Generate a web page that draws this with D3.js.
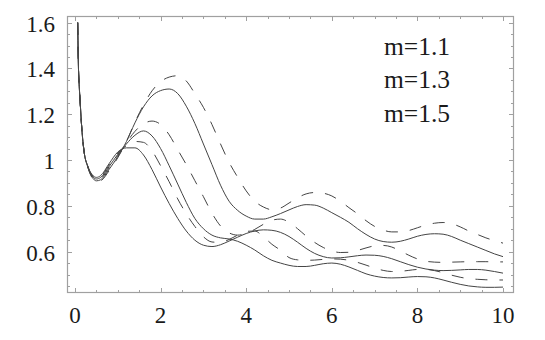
<!DOCTYPE html>
<html><head><meta charset="utf-8">
<script src="https://cdn.jsdelivr.net/npm/d3@7"></script>
<style>html,body{margin:0;padding:0;background:#fff}svg{display:block}</style>
</head><body>
<svg id="c" width="545" height="340"></svg>
<script>
// x sample positions shared by all curves
const xs = [0.063,0.08,0.1,0.12,0.16,0.21,0.3,0.4,0.5,0.6,0.8,
  1.0,1.2,1.4,1.6,1.8,2.0,2.2,2.4,2.6,2.8,3.0,3.2,3.4,3.6,3.8,4.0,4.2,4.4,4.6,4.8,
  5.0,5.2,5.4,5.6,5.8,6.0,6.2,6.4,6.6,6.8,7.0,7.2,7.4,7.6,7.8,8.0,8.2,8.4,8.6,8.8,
  9.0,9.2,9.4,9.6,9.8,10.0];

const solidLow = [1.60,1.41,1.32,1.255,1.135,1.04,0.973,0.936,0.924,0.932,0.985,
  1.035,1.053,1.053,1.022,0.958,0.882,0.81,0.745,0.69,0.65,0.628,0.622,0.63,0.646,0.663,0.679,0.69,0.695,0.693,0.684,
  0.666,0.641,0.614,0.592,0.578,0.572,0.573,0.577,0.582,0.585,0.584,0.579,0.569,0.556,0.543,0.532,0.524,0.519,0.517,0.518,
  0.52,0.522,0.522,0.519,0.513,0.506];
const dashedLow = [1.60,1.41,1.32,1.255,1.135,1.04,0.972,0.934,0.921,0.928,0.979,
  1.03,1.062,1.081,1.077,1.04,0.975,0.905,0.83,0.765,0.71,0.665,0.642,0.64,0.653,0.672,0.688,0.69,0.665,0.632,0.606,
  0.574,0.564,0.562,0.563,0.566,0.568,0.567,0.562,0.553,0.541,0.528,0.518,0.513,0.514,0.518,0.522,0.522,0.517,0.508,0.497,
  0.488,0.482,0.479,0.477,0.476,0.476];
const solidMid = [1.60,1.41,1.32,1.255,1.135,1.04,0.971,0.931,0.917,0.924,0.972,
  1.025,1.07,1.108,1.127,1.105,1.05,0.975,0.895,0.815,0.745,0.70,0.672,0.66,0.655,0.645,0.628,0.607,0.582,0.562,0.55,
  0.54,0.535,0.535,0.54,0.547,0.55,0.545,0.533,0.518,0.503,0.493,0.487,0.485,0.486,0.489,0.491,0.49,0.485,0.476,0.466,
  0.457,0.45,0.446,0.444,0.444,0.445];
const dashedMid = [1.60,1.41,1.32,1.255,1.135,1.04,0.97,0.928,0.913,0.919,0.966,
  1.02,1.075,1.125,1.158,1.17,1.155,1.11,1.045,0.98,0.91,0.84,0.768,0.712,0.682,0.672,0.679,0.697,0.719,0.737,0.742,
  0.728,0.70,0.668,0.64,0.618,0.603,0.596,0.597,0.605,0.616,0.625,0.627,0.62,0.603,0.584,0.568,0.558,0.554,0.553,0.554,
  0.555,0.556,0.556,0.556,0.555,0.555];
const solidHigh = [1.60,1.41,1.32,1.255,1.135,1.04,0.969,0.925,0.909,0.914,0.96,
  1.015,1.08,1.162,1.232,1.28,1.303,1.31,1.29,1.235,1.16,1.07,0.98,0.89,0.82,0.78,0.755,0.742,0.742,0.752,0.766,
  0.782,0.797,0.805,0.803,0.79,0.77,0.75,0.728,0.70,0.675,0.655,0.644,0.641,0.645,0.655,0.667,0.675,0.678,0.676,0.666,
  0.65,0.635,0.62,0.605,0.59,0.578];
const dashedHigh = [1.60,1.41,1.32,1.255,1.135,1.04,0.968,0.922,0.905,0.909,0.954,
  1.01,1.08,1.165,1.24,1.302,1.342,1.362,1.368,1.345,1.29,1.23,1.155,1.07,0.99,0.925,0.865,0.82,0.795,0.783,0.79,
  0.812,0.835,0.852,0.858,0.855,0.843,0.82,0.792,0.765,0.735,0.71,0.694,0.686,0.686,0.692,0.704,0.716,0.724,0.727,0.722,
  0.708,0.69,0.675,0.66,0.648,0.637];

const xTickValues = [0,2,4,6,8,10];
const xTickLabels = ["0","2","4","6","8","10"];
const yTickValues = [0.6,0.8,1,1.2,1.4,1.6];
const yTickLabels = ["0.6","0.8","1","1.2","1.4","1.6"];
const legendLabels = ["m=1.1","m=1.3","m=1.5"];

const series = [
  {v: solidLow, dash: null}, {v: dashedLow, dash: "12,12"},
  {v: solidMid, dash: null}, {v: dashedMid, dash: "12,12"},
  {v: solidHigh, dash: null}, {v: dashedHigh, dash: "12,12"}
];

const svg = d3.select("#c");
const x = d3.scaleLinear().domain([0,10]).range([75,503]);
const y = d3.scaleLinear().domain([0.6,1.6]).range([251.6,22.6]);
const fL = 67.5, fR = 513.5, fT = 16.5, fB = 292.5;
const frameColor = "#a0a0a0";
const font = '"Liberation Serif"';

// frame
svg.append("rect").attr("x",fL).attr("y",fT).attr("width",fR-fL).attr("height",fB-fT)
  .attr("fill","none").attr("stroke",frameColor).attr("stroke-width",1.2);

// ticks
const xMinor = d3.range(0,10.001,0.5);
const yMinor = d3.range(0.45,1.6001,0.05);
const isMajorX = v => Math.abs(v/2 - Math.round(v/2)) < 1e-6;
const isMajorY = v => Math.abs(v/0.2 - Math.round(v/0.2)) < 1e-6;
const tg = svg.append("g").attr("stroke",frameColor).attr("stroke-width",1);
xMinor.forEach(v => {
  const px = Math.round(x(v)) + 0.5, L = isMajorX(v) ? 4.5 : 2.5;
  tg.append("line").attr("x1",px).attr("x2",px).attr("y1",fB).attr("y2",fB-L);
  tg.append("line").attr("x1",px).attr("x2",px).attr("y1",fT).attr("y2",fT+L);
});
yMinor.forEach(v => {
  const py = Math.round(y(v)) + 0.5, L = isMajorY(v) ? 4.5 : 2.5;
  tg.append("line").attr("y1",py).attr("y2",py).attr("x1",fL).attr("x2",fL+L);
  tg.append("line").attr("y1",py).attr("y2",py).attr("x1",fR).attr("x2",fR-L);
});

// tick labels
svg.append("g").selectAll("text").data(xTickValues).join("text")
  .attr("x",d=>x(d)).attr("y",323).attr("text-anchor","middle")
  .style("font-family",font).style("font-size","23px").attr("fill","#1a1a1a")
  .text((d,i)=>xTickLabels[i]);
svg.append("g").selectAll("text").data(yTickValues).join("text")
  .attr("x",55).attr("y",d=>y(d)+9).attr("text-anchor","end")
  .style("font-family",font).style("font-size","23px").attr("fill","#1a1a1a")
  .text((d,i)=>yTickLabels[i]);

// curves
const line = d3.line().x((d,i)=>x(xs[i])).y(d=>y(d)).curve(d3.curveMonotoneX);
series.forEach(s => {
  svg.append("path").attr("d", line(s.v)).attr("fill","none")
    .attr("stroke","#444").attr("stroke-width",1)
    .attr("stroke-dasharray", s.dash);
});

// legend text
svg.append("g").selectAll("text").data(legendLabels).join("text")
  .attr("x",384).attr("y",(d,i)=>54.5+i*33.7)
  .style("font-family",font).style("font-size","25.5px").attr("fill","#1a1a1a")
  .text(d=>d);
</script>
</body></html>
